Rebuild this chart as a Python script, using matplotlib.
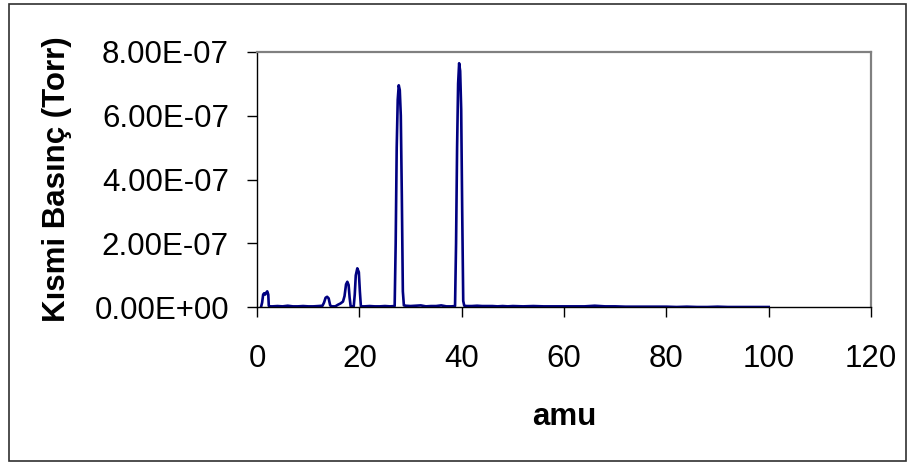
import matplotlib
matplotlib.use("Agg")
import matplotlib.pyplot as plt
from matplotlib.patches import Rectangle
from matplotlib.ticker import FuncFormatter, MultipleLocator

# mass spectrum (pressure in units of 1e-7 Torr)
amu = [0.8, 1.0, 1.2, 1.4, 1.6, 1.8, 2.0, 2.2, 2.3, 2.5, 3, 4, 5, 6, 7, 8, 9, 10, 11, 12,
       12.8, 13.1, 13.4, 13.7, 14.0, 14.3, 14.6, 15.3, 15.8, 16.3, 16.8, 17.1, 17.4, 17.65,
       17.9, 18.1, 18.3, 18.9, 19.1, 19.3, 19.6, 19.9, 20.1, 20.3, 21, 22, 23, 24, 25, 26,
       26.9, 27.1, 27.3, 27.5, 27.7, 27.9, 28.1, 28.3, 28.5, 28.7, 29, 30, 31, 32, 33, 34,
       35, 36, 37, 38, 38.7, 38.9, 39.1, 39.3, 39.5, 39.7, 39.9, 40.1, 40.3, 40.5, 41, 42,
       43, 44, 45, 46, 47, 48, 49, 50, 52, 54, 56, 58, 60, 62, 64, 65, 66, 67, 68, 70, 72,
       74, 76, 78, 80, 82, 84, 86, 88, 90, 92, 94, 96, 98, 100]
pressure_e7 = [0.02, 0.15, 0.40, 0.44, 0.40, 0.46, 0.50, 0.40, 0.05, 0.03, 0.03, 0.04, 0.03,
               0.05, 0.03, 0.03, 0.04, 0.03, 0.03, 0.04,
               0.05, 0.15, 0.30, 0.33, 0.28, 0.06, 0.03, 0.03, 0.08, 0.12, 0.18, 0.35, 0.72, 0.80,
               0.70, 0.30, 0.03, 0.03, 0.40, 1.00, 1.22, 1.10, 0.50, 0.03, 0.03, 0.04, 0.03, 0.03,
               0.04, 0.03,
               0.04, 2.0, 5.0, 6.5, 6.95, 6.8, 6.0, 3.5, 0.5, 0.06, 0.05, 0.04, 0.05, 0.06, 0.03, 0.04,
               0.04, 0.06, 0.03, 0.03, 0.04, 2.0, 5.0, 7.0, 7.64, 7.4, 6.2, 3.0, 0.2, 0.05, 0.04, 0.04,
               0.05, 0.04, 0.04, 0.04, 0.03, 0.04, 0.03, 0.04, 0.03, 0.04, 0.03, 0.03, 0.03, 0.03,
               0.03, 0.04, 0.05, 0.04, 0.03, 0.03, 0.02,
               0.02, 0.02, 0.02, 0.02, 0.01, 0.02, 0.01, 0.01, 0.02, 0.01, 0.01, 0.01, 0.01, 0.01]

plt.rcParams['font.family'] = ['Liberation Sans', 'DejaVu Sans']
FS = 22.5

fig = plt.figure(figsize=(9.14, 4.62), dpi=100)
ax = fig.add_axes([0.2812, 0.3348, 0.6718, 0.5532])

ax.plot(amu, [p * 1e-7 for p in pressure_e7], color='#000080', lw=1.9)

ax.set_xlim(0, 120)
ax.set_ylim(0, 8e-7)
ax.xaxis.set_major_locator(MultipleLocator(20))
ax.yaxis.set_major_locator(MultipleLocator(2e-7))
ax.yaxis.set_major_formatter(FuncFormatter(lambda v, pos: f"{v:.2E}"))

ax.tick_params(axis='both', direction='out', length=7.2, width=1, color='black', labelsize=FS)
ax.tick_params(axis='x', pad=19)
ax.tick_params(axis='y', pad=13)

for side in ('left', 'bottom'):
    ax.spines[side].set_color('black')
    ax.spines[side].set_linewidth(1.0)
for side in ('top', 'right'):
    ax.spines[side].set_color('#808080')
    ax.spines[side].set_linewidth(1.6)

ax.set_xlabel('amu', fontsize=FS, fontweight='bold', va='top')
ax.xaxis.set_label_coords(0.5, -0.37)
ax.set_ylabel('Kısmi Basınç (Torr)', fontsize=FS, fontweight='bold')
ax.yaxis.set_label_coords(-0.301, 0.502)

# chart area border
fig.add_artist(Rectangle((8.5 / 914, 1.5 / 462), 897 / 914, 456.5 / 462,
                         transform=fig.transFigure, fill=False, ec='#303030', lw=1.2))

fig.savefig('out.png', dpi=100)
